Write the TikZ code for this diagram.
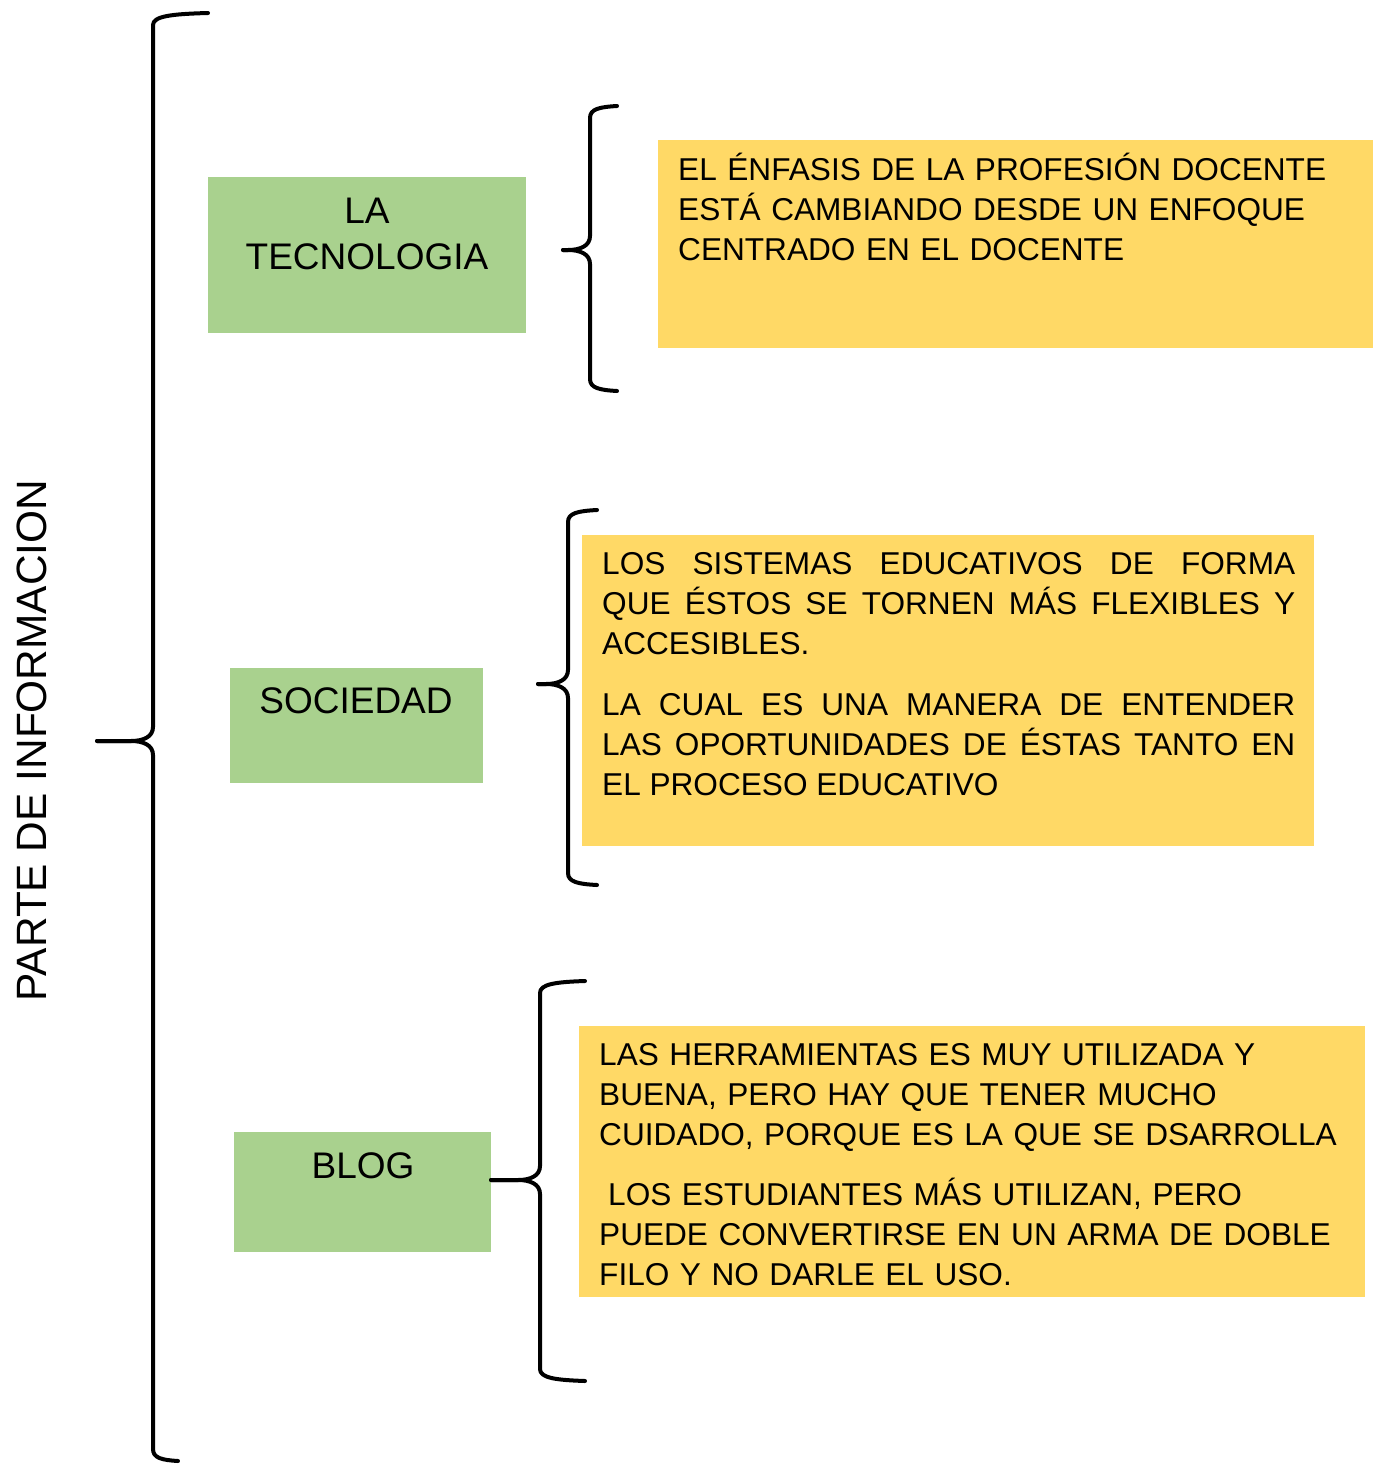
\documentclass[tikz,border=0pt]{standalone}
\usepackage{fontspec}
\setmainfont{Liberation Sans}
\definecolor{boxgreen}{HTML}{A9D18E}
\definecolor{boxyellow}{HTML}{FFD966}
\setlength{\parindent}{0pt}
\newcommand\bracedraw[8]{%
  \coordinate (#1top) at (#7,#3);
  \coordinate (#1bot) at (#8,#4);
  \coordinate (#1tip) at (#5,#6);
  \draw[bracestyle] (#1top) .. controls ({#2+0.35*(#7-#2)},{#3+1}) and (#2,{#3+3}) .. (#2,{#3+12})
     -- (#2,{#6-14}) .. controls (#2,{#6-4}) and ({#2-10},#6) .. ({#2-22},#6) -- (#1tip);
  \draw[bracestyle] (#1tip) -- ({#2-22},#6) .. controls ({#2-10},#6) and (#2,{#6+4}) .. (#2,{#6+14})
     -- (#2,{#4-12}) .. controls (#2,{#4-3}) and ({#2+0.35*(#8-#2)},{#4-1}) .. (#1bot);
}
\tikzset{
  bracestyle/.style={line width=4pt, line cap=round, line join=round, black},
  greenbox/.style={fill=boxgreen, draw=none, inner sep=0pt, outer sep=0pt, anchor=north west},
  yellowbox/.style={fill=boxyellow, draw=none, inner sep=0pt, outer sep=0pt, anchor=north west},
  greentxt/.style={inner sep=0pt, anchor=north, align=center, font=\fontsize{37}{46}\selectfont},
  yellowtxt/.style={inner sep=0pt, anchor=north west, font=\fontsize{31.6}{40}\selectfont},
}
\begin{document}
\begin{tikzpicture}[x=1pt,y=-1pt]
\useasboundingbox (0,0) rectangle (1379,1465);
% green boxes
\node[greenbox, minimum width=318pt, minimum height=156pt] (tec) at (208,177) {};
\node[greenbox, minimum width=253pt, minimum height=115pt] (soc) at (230,668) {};
\node[greenbox, minimum width=257pt, minimum height=120pt] (blog) at (234,1132) {};
% yellow boxes
\node[yellowbox, minimum width=715pt, minimum height=208pt] (y1) at (658,140) {};
\node[yellowbox, minimum width=732pt, minimum height=311pt] (y2) at (582,535) {};
\node[yellowbox, minimum width=786pt, minimum height=271pt] (y3) at (579,1026) {};
% green texts
\node[greentxt, text width=318pt] (tectxt) at (367,190.8) {\strut LA\\TECNOLOGIA};
\node[greentxt] (soctxt) at (356,680.8) {\strut SOCIEDAD};
\node[greentxt] (blogtxt) at (363,1145.8) {\strut BLOG};
% yellow texts
\node[yellowtxt, text width=690pt, align=left] (y1txt) at (678,152)
  {\strut EL ÉNFASIS DE LA PROFESIÓN DOCENTE\\ESTÁ CAMBIANDO DESDE UN ENFOQUE\\CENTRADO EN EL DOCENTE};
\node[yellowtxt, text width=693pt, align=justify] (y2txt) at (602,546.5)
  {\hyphenpenalty=10000\strut LOS SISTEMAS EDUCATIVOS DE FORMA\linebreak QUE ÉSTOS SE TORNEN MÁS FLEXIBLES Y\linebreak ACCESIBLES.\par\vspace{21pt}%
   LA CUAL ES UNA MANERA DE ENTENDER\linebreak LAS OPORTUNIDADES DE ÉSTAS TANTO EN\linebreak EL PROCESO EDUCATIVO};
\node[yellowtxt, text width=770pt, align=left] (y3txt) at (599,1037.5)
  {\strut LAS HERRAMIENTAS ES MUY UTILIZADA Y\\BUENA, PERO HAY QUE TENER MUCHO\\CUIDADO, PORQUE ES LA QUE SE DSARROLLA\par\vspace{20pt}%
   \hspace*{9pt}LOS ESTUDIANTES MÁS UTILIZAN, PERO\\PUEDE CONVERTIRSE EN UN ARMA DE DOBLE\\FILO Y NO DARLE EL USO.};
% title
\node[rotate=90, inner sep=0pt, font=\fontsize{42.4}{50}\selectfont] (title) at (32,740.5) {PARTE DE INFORMACION};
% braces
\bracedraw{main}{153}{13}{1461}{97}{741}{208}{178}
\bracedraw{ba}{590}{106}{391}{563}{250}{617}{617}
\bracedraw{bb}{568}{510}{885}{538}{684}{597}{597}
\bracedraw{bc}{540}{981}{1381}{491}{1180}{585}{585}
\end{tikzpicture}
\end{document}
